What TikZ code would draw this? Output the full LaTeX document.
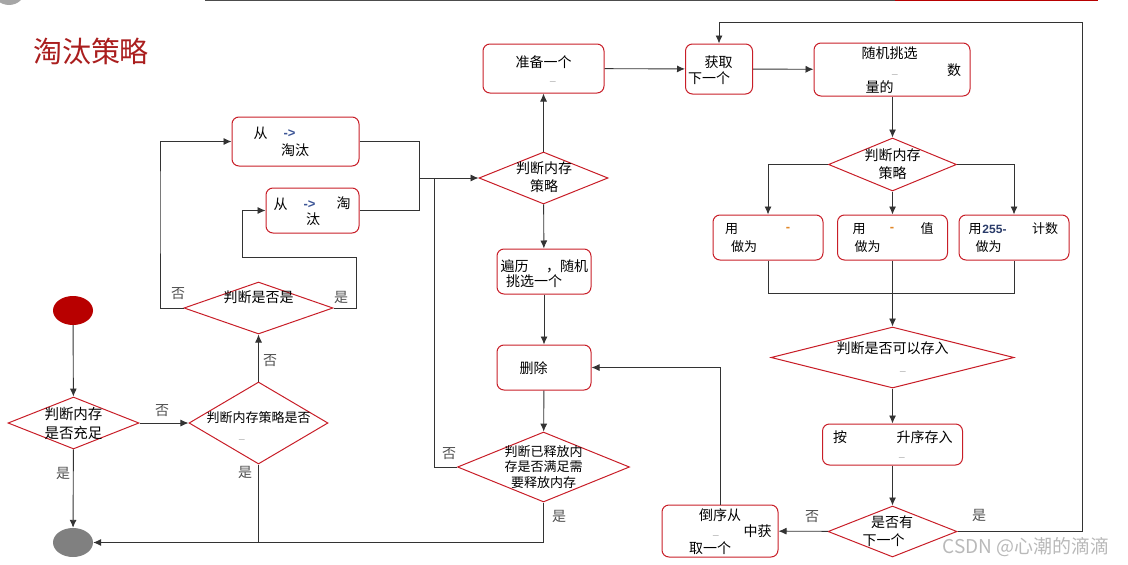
\documentclass[tikz,border=0pt]{standalone}
\usepackage{fontspec}
\newfontfamily\cjk{Noto Sans CJK SC}
\newfontfamily\latinsans{Liberation Sans}
\usetikzlibrary{arrows.meta,shapes.geometric}
\definecolor{boxred}{RGB}{200,30,40}
\definecolor{titlered}{RGB}{170,30,30}
\definecolor{startred}{RGB}{184,0,0}
\definecolor{lblgray}{RGB}{80,80,80}
\definecolor{arrowblue}{RGB}{60,85,150}
\definecolor{dashorange}{RGB}{225,135,40}

\begin{document}
\begin{tikzpicture}[x=1pt, y=-1pt,
  every node/.style={font=\cjk\fontsize{14}{18}\selectfont},
  box/.style={draw=boxred, rounded corners=7pt, line width=1pt, inner sep=0},
  dia/.style={diamond, draw=boxred, line width=1pt, inner sep=0},
  txt/.style={inner sep=0, align=center},
  small/.style={txt, font=\cjk\fontsize{13}{15.5}\selectfont},
  lbl/.style={inner sep=0, text=lblgray},
  blank/.style={inner sep=0, text=gray!70, font=\latinsans\fontsize{10}{10}\selectfont},
  sym/.style={inner sep=0, font=\latinsans\bfseries\fontsize{13}{13}\selectfont},
  line/.style={draw=black!80, line width=0.9pt},
  arr/.style={line, -{Latex[length=8pt,width=7pt]}}]
\useasboundingbox (0,0) rectangle (1128,565);
% page decoration
\begin{scope}
\clip (0,0) rectangle (1128,565);
\fill[gray!70] (9,-12) circle (17pt);
\end{scope}
\draw[black!70, line width=1.5pt] (205,0.5) -- (895,0.5);
\draw[startred, line width=1.5pt] (895,0.5) -- (1098,0.5);
\node[text=titlered, font=\cjk\fontsize{29}{30}\selectfont] (title) at (91,51) {淘汰策略};

% left column
\node[ellipse, fill=startred, minimum width=40pt, minimum height=29pt] (start) at (73,310.5) {};
\node[ellipse, fill=gray, minimum width=40pt, minimum height=29pt] (end) at (73,542.5) {};
\node[dia, minimum width=131pt, minimum height=52pt] (d1) at (73.5,423) {};
\node[txt, font=\cjk\fontsize{14.5}{19}\selectfont] (t1) at (73.5,423) {判断内存\\是否充足};
\node[dia, minimum width=139pt, minimum height=82pt] (d2) at (258.5,423) {};
\node[small] (t2) at (258.5,418) {判断内存策略是否};
\node[blank] (u2) at (242,439) {\_};
\node[dia, minimum width=149pt, minimum height=52pt] (d3) at (258.5,308) {};
\node[txt] (t3) at (258.5,297) {判断是否是};

% eviction pool boxes
\node[box, minimum width=127pt, minimum height=49pt] (a1) at (295.5,141.5) {};
\node[txt] (a1x) at (260.5,133) {从};
\node[sym, text=arrowblue] (a1y) at (289.5,134) {->};
\node[txt] (a1z) at (295,150) {淘汰};
\node[box, minimum width=93pt, minimum height=45pt] (a2) at (312.5,210.5) {};
\node[txt] (a2x) at (280.5,204) {从};
\node[sym, text=arrowblue] (a2y) at (309.5,205) {->};
\node[txt] (a2z) at (343.5,203) {淘};
\node[txt] (a2w) at (313,219) {汰};
\coordinate (j1) at (419,178);
\coordinate (j2) at (434,178);

% middle column
\node[dia, minimum width=129pt, minimum height=52pt] (d4) at (543.5,178) {};
\node[txt] (t4) at (544,177) {判断内存\\策略};
\node[box, minimum width=121pt, minimum height=49pt] (b1) at (543.5,68.5) {};
\node[txt] (b1x) at (543.5,62) {准备一个};
\node[blank] (u3) at (553,81) {\_};
\node[box, minimum width=94pt, minimum height=45pt] (b2) at (544,271.5) {};
\node[txt] (b2x) at (514.5,266) {遍历};
\node[txt] (b2y) at (567,266) {，随机};
\node[txt] (b2z) at (534,281) {挑选一个};
\node[box, minimum width=94pt, minimum height=45pt] (b3) at (544,367.5) {};
\node[txt] (b3x) at (533.5,368) {删除};
\node[dia, minimum width=172pt, minimum height=70pt] (d6) at (543.5,467) {};
\node[small] (t6) at (543.5,467) {判断已释放内\\存是否满足需\\要释放内存};

% right column
\node[box, minimum width=67pt, minimum height=50pt] (c1) at (719,69) {};
\node[txt] (c1x) at (718.5,62) {获取};
\node[txt] (c1y) at (709,78) {下一个};
\node[box, minimum width=156pt, minimum height=53pt] (c2) at (892,69.5) {};
\node[txt] (c2x) at (889.5,53) {随机挑选};
\node[txt] (c2y) at (954,70) {数};
\node[txt] (c2z) at (879.5,87) {量的};
\node[blank] (u4) at (895,74) {\_};
\node[dia, minimum width=128pt, minimum height=53pt] (d5) at (892.5,164.5) {};
\node[txt] (t5) at (892.5,164.5) {判断内存\\策略};
\node[box, minimum width=110pt, minimum height=45pt] (e1) at (768,237.5) {};
\node[small] (e1x) at (731.5,229) {用};
\node[sym, text=dashorange] (e1y) at (788,229) {-};
\node[small] (e1z) at (744,247) {做为};
\node[box, minimum width=110pt, minimum height=45pt] (e2) at (892.5,237.5) {};
\node[small] (e2x) at (859,229) {用};
\node[sym, text=dashorange] (e2y) at (892,229) {-};
\node[small] (e2v) at (927,229) {值};
\node[small] (e2z) at (867.5,247) {做为};
\node[box, minimum width=110pt, minimum height=45pt] (e3) at (1014,237.5) {};
\node[small] (e3x) at (975,229) {用};
\node[sym, text=arrowblue!70!black, font=\latinsans\bfseries\fontsize{12}{12}\selectfont] (e3y) at (994.5,229) {255-};
\node[small] (e3v) at (1045,229) {计数};
\node[small] (e3z) at (988.5,247) {做为};
\coordinate (j3) at (768,293);
\coordinate (j4) at (1014,293);
\node[dia, minimum width=243pt, minimum height=61pt] (d7) at (892.5,357.5) {};
\node[txt] (t7) at (892.5,348) {判断是否可以存入};
\node[blank] (u5) at (903,371) {\_};
\node[box, minimum width=140pt, minimum height=41pt] (f) at (892.5,444.5) {};
\node[txt] (fx) at (840,437) {按};
\node[txt] (fy) at (924.5,437) {升序存入};
\node[blank] (u6) at (902,457) {\_};
\node[dia, minimum width=129pt, minimum height=51pt] (d8) at (892.5,531.5) {};
\node[txt] (t8x) at (892,522) {是否有};
\node[txt] (t8y) at (883.5,540) {下一个};
\node[box, minimum width=116pt, minimum height=52pt] (g) at (720,531) {};
\node[txt] (gx) at (720,515) {倒序从};
\node[txt] (gy) at (757.5,531) {中获};
\node[blank] (u7) at (716,535) {\_};
\node[txt] (gz) at (710,548) {取一个};
\coordinate (j5) at (1082,22);

% connectors
\draw[arr] (start) -- (d1);
\draw[arr] (d1) -- (end);
\draw[arr] (d1) -- (d2);
\draw[arr] (d2) -- (d3);
\draw[line] (d2.south) -- (d2.south |- end.east);
\draw[arr] (d6.south) |- (end.east);
\draw[arr] (d3.west) -| (160,200) |- (a1.west);
\draw[arr] (d3.east) -| (356,257) -| ([xshift=-23pt]a2.west) -- (a2.west);
\draw[line] (a1.east) -| (j1);
\draw[line] (a2.east) -| (j1);
\draw[arr] (j1) -- (d4.west);
\draw[line] (d6.west) -| (j2);
\draw[arr] (d4) -- (b1);
\draw[arr] (d4) -- (b2);
\draw[arr] (b2) -- (b3);
\draw[arr] (b3) -- (d6);
\draw[arr] (b1) -- (c1);
\draw[arr] (c1) -- (c2);
\draw[arr] (c2.south -| d5.north) -- (d5.north);
\draw[arr] (d5.west) -| (e1.north);
\draw[arr] (d5) -- (e2);
\draw[arr] (d5.east) -| (e3.north);
\draw[line] (e1.south) -- (j3) -- (j4) -- (e3.south);
\draw[arr] (e2) -- (d7);
\draw[arr] (d7) -- (f);
\draw[arr] (f) -- (d8);
\draw[arr] (d8.east) -| (j5) -| (c1.north);
\draw[arr] (d8) -- (g);
\draw[arr] (g.north) |- (b3.east);

% branch labels
\node[lbl] (l1) at (63,473) {是};
\node[lbl] (l2) at (162,411) {否};
\node[lbl] (l3) at (270,361) {否};
\node[lbl] (l4) at (245,472) {是};
\node[lbl] (l5) at (178,294) {否};
\node[lbl] (l6) at (341,297) {是};
\node[lbl] (l7) at (449,454) {否};
\node[lbl] (l8) at (559,516) {是};
\node[lbl] (l9) at (812,517) {否};
\node[lbl] (l10) at (979,515) {是};
\node[text=gray!55, font=\cjk\fontsize{19}{20}\selectfont] (mark) at (1026,547) {CSDN @心潮的滴滴};
\end{tikzpicture}
\end{document}
